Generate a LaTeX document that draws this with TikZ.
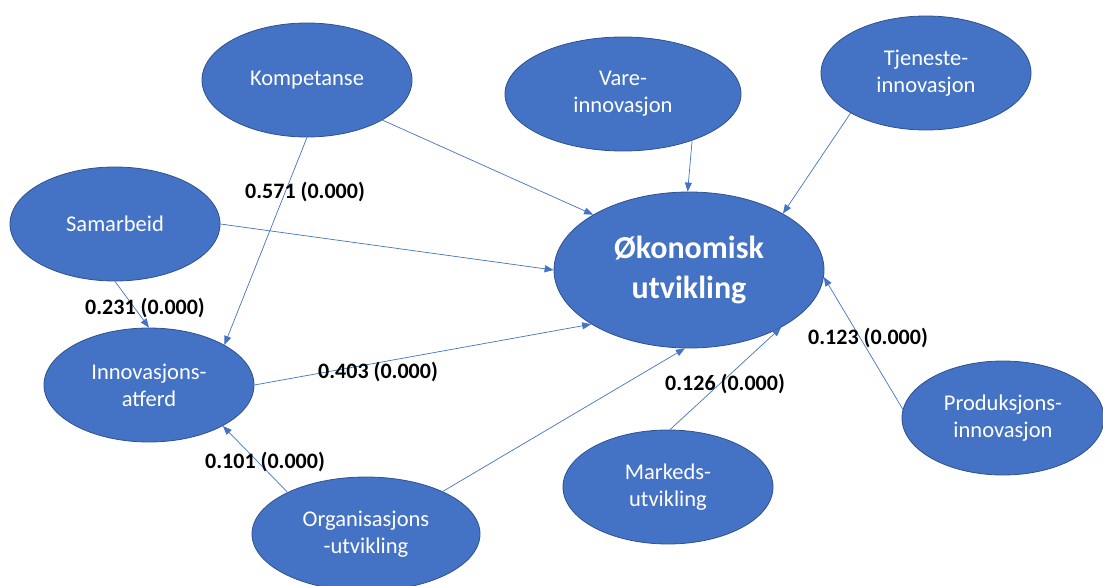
\documentclass[tikz,border=0pt]{standalone}
\usepackage{fontspec}
\setmainfont{Carlito}
\usetikzlibrary{shapes.geometric, arrows.meta}
\definecolor{ovalblue}{HTML}{4472C4}
\definecolor{ovalrim}{HTML}{2F528F}
\begin{document}
\begin{tikzpicture}[x=1pt,y=-1pt,
	oval/.style={ellipse, draw=ovalrim, fill=ovalblue, line width=0.8pt, inner sep=0pt, minimum width=210pt, minimum height=114pt, text=white, align=center, font=\fontsize{22.5}{27}\selectfont},
	bigoval/.style={oval, minimum width=270pt, minimum height=156pt, font=\fontsize{32}{40}\selectfont\bfseries},
	coef/.style={font=\fontsize{22}{26}\selectfont\bfseries, inner sep=0pt},
	link/.style={draw=ovalblue, line width=0.7pt, ->},
	>={Triangle[length=9pt,width=7pt]}]
	\useasboundingbox (0,0) rectangle (1103,586);

	%Nodes
	\node[bigoval]	(oko)	at (689,270) {Økonomisk\\utvikling};
	\node[oval]	(komp)	at (307,80) {Kompetanse};
	\node[oval, minimum width=236pt]	(vare)	at (623,94) {Vare-\\innovasjon};
	\node[oval]	(tjen)	at (926,73) {Tjeneste-\\innovasjon};
	\node[oval]	(sam)	at (115,224) {Samarbeid};
	\node[oval]	(innov)	at (149,385) {Innovasjons-\\atferd};
	\node[oval, minimum width=202pt]	(prod)	at (1003,418) {Produksjons-\\innovasjon};
	\node[oval]	(mark)	at (668,487) {Markeds-\\utvikling};
	\node[oval, minimum width=228pt]	(org)	at (366,534) {Organisasjons\\-utvikling};

	%Lines
	\draw[link] (komp.-28) -- (oko.150);
	\draw[link] (komp.-90) -- (innov.28);
	\draw[link] (vare.-34) -- (oko.91);
	\draw[link] (tjen.208) -- (oko.31);
	\draw[link] (sam.0) -- (oko.180);
	\draw[link] (sam.-90) -- (innov.90);
	\draw[link] (innov.0) -- (oko.209);
	\draw[link] (org.152) -- (innov.-29);
	\draw[link] (org.29) -- (oko.-93);
	\draw[link] (mark.88) -- (oko.-32);
	\draw[link] (prod.175) -- (oko.-3);

	%Coefficients
	\node[coef]	(c571)	at (305,192) {0.571 (0.000)};
	\node[coef]	(c231)	at (145,308) {0.231 (0.000)};
	\node[coef]	(c403)	at (378,372) {0.403 (0.000)};
	\node[coef]	(c101)	at (265,462) {0.101 (0.000)};
	\node[coef]	(c126)	at (725,384) {0.126 (0.000)};
	\node[coef]	(c123)	at (868,338) {0.123 (0.000)};
\end{tikzpicture}
\end{document}
